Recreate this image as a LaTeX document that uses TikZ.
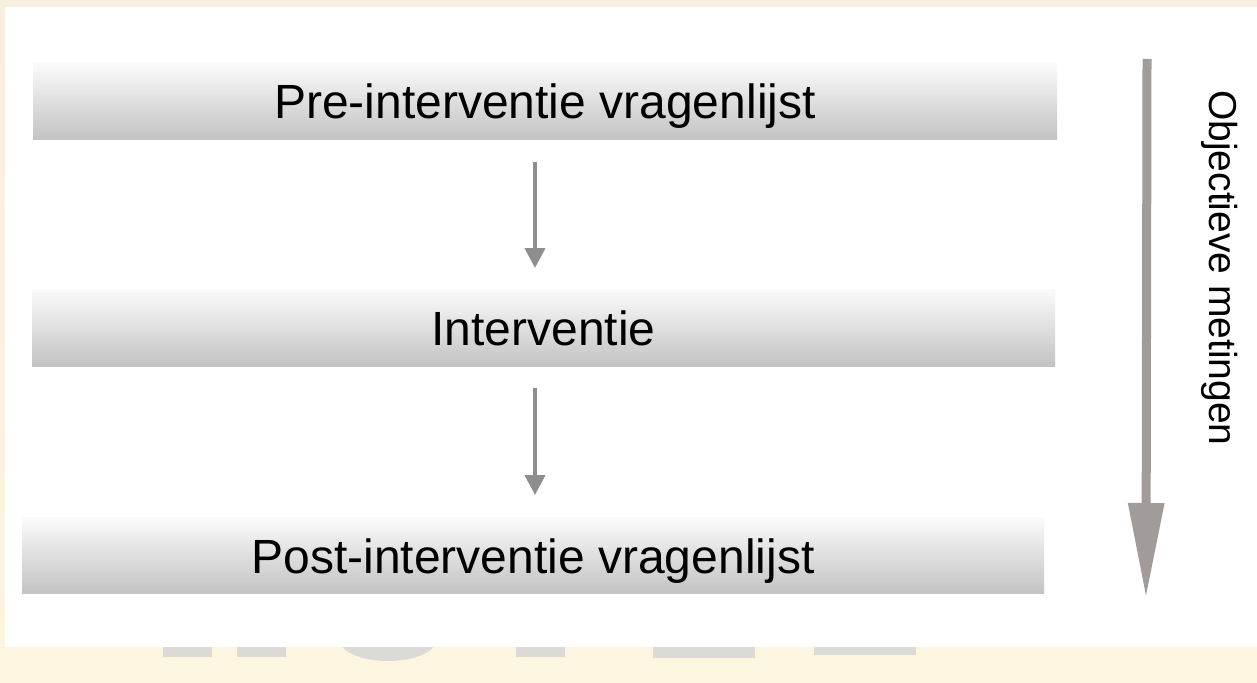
\documentclass[tikz,border=0pt]{standalone}
\usepackage{fontspec}
\setmainfont{Liberation Sans}
\usetikzlibrary{arrows.meta}
\definecolor{cream}{HTML}{F8F0DE}
\definecolor{creamlow}{HTML}{FCF5E0}
\definecolor{bartop}{HTML}{FBFBFB}
\definecolor{barbot}{HTML}{C3C3C3}
\definecolor{arrowgray}{HTML}{8E8E8E}
\definecolor{bigarrow}{HTML}{A19C9A}
\definecolor{ghost}{HTML}{DCDAD6}
\tikzset{
  bar/.style={top color=bartop, bottom color=barbot, draw=none, inner sep=0pt,
    text height=36pt, text depth=0pt,
    font=\fontsize{48}{56}\selectfont, text=black},
  smallarrow/.style={draw=arrowgray, line width=4pt, -{Triangle[width=20pt,length=20pt]}},
  bigarr/.style={draw=bigarrow, line width=9pt, -{Triangle[width=34pt,length=95pt]}},
  sidelabel/.style={rotate=-90, font=\fontsize{39}{46}\selectfont, inner sep=0pt},
  ghostshape/.style={fill=ghost, draw=none}
}
\begin{document}
\begin{tikzpicture}[x=1pt,y=-1pt]
\useasboundingbox (0,0) rectangle (1257,682);
% background
\shade[top color=cream, bottom color=creamlow] (0,0) rectangle (1257,682);
% faint background shapes below panel
\fill[ghostshape] (163,640) rectangle (212,657);
\fill[ghostshape] (237,640) rectangle (286,657);
\fill[ghostshape] (339,640) .. controls (345,668) and (431,668) .. (437,640) -- cycle;
\fill[ghostshape] (516,640) rectangle (565,657);
\fill[ghostshape] (653,640) rectangle (755,658);
\fill[ghostshape] (814,640) rectangle (916,655);
% white panel
\fill[white] (5,7) rectangle (1257,647);
% boxes
\node[bar, minimum width=1024pt, minimum height=76pt] (b1) at (545,101) {Pre-interventie vragenlijst};
\node[bar, minimum width=1023pt, minimum height=77pt] (b2) at (543.5,327.5) {Interventie};
\node[bar, minimum width=1022pt, minimum height=76pt] (b3) at (533,555) {Post-interventie vragenlijst};
% connector endpoints
\coordinate (a1s) at (535,162);
\coordinate (a1e) at (535,268);
\coordinate (a2s) at (535,388);
\coordinate (a2e) at (535,495);
\draw[smallarrow] (a1s) -- (a1e);
\draw[smallarrow] (a2s) -- (a2e);
% big side arrow
\coordinate (bs) at (1147,59);
\coordinate (be) at (1146,598);
\draw[bigarr] (bs) -- (be);
\node[sidelabel] (lab) at (1220,268) {Objectieve metingen};
\end{tikzpicture}
\end{document}
